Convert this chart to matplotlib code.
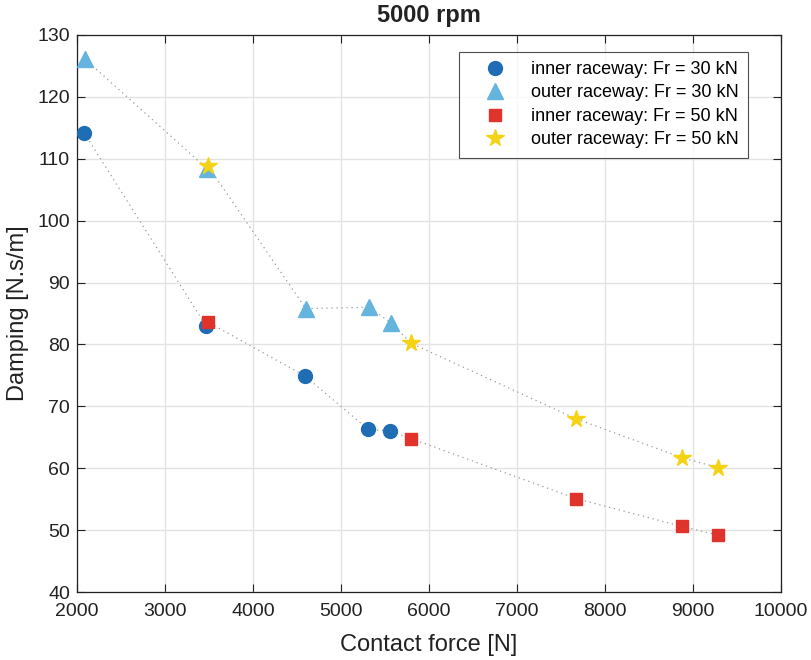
import matplotlib.pyplot as plt
import numpy as np

plt.rcParams.update({
  "font.family": ["Liberation Sans", "DejaVu Sans"],
  "xtick.direction": "in",
  "ytick.direction": "in",
})

# contact force [N] and damping [N.s/m]
inner30_force = [2080, 3466, 4591, 5307, 5557]
inner30_damp = [114.2, 83.0, 74.9, 66.3, 66.0]
outer30_force = [2090, 3477, 4600, 5318, 5568]
outer30_damp = [126.1, 108.4, 85.8, 86.0, 83.5]
inner50_force = [3489, 5795, 7670, 8875, 9284]
inner50_damp = [83.6, 64.8, 55.1, 50.6, 49.2]
outer50_force = [3489, 5795, 7670, 8875, 9284]
outer50_damp = [108.8, 80.2, 68.0, 61.7, 60.1]

x_ticks = [2000, 3000, 4000, 5000, 6000, 7000, 8000, 9000, 10000]
y_ticks = [40, 50, 60, 70, 80, 90, 100, 110, 120, 130]

fig = plt.figure(figsize=(8.11, 6.6), dpi=100)
fig.patch.set_facecolor("white")
ax = fig.add_axes([0.095, 0.103, 0.868, 0.844])

# dotted guide through each raceway's points
for fx, fy in [(inner30_force + inner50_force, inner30_damp + inner50_damp),
               (outer30_force + outer50_force, outer30_damp + outer50_damp)]:
  order = np.argsort(fx, kind="stable")
  ax.plot(np.array(fx)[order], np.array(fy)[order], linestyle=(0, (1, 3)),
          color="#9a9a9a", linewidth=0.9, zorder=2)

ax.plot(inner30_force, inner30_damp, "o", color="#1f6db4", markersize=10,
        linestyle="none", label="inner raceway: Fr = 30 kN", zorder=3)
ax.plot(outer30_force, outer30_damp, "^", color="#64b4de", markersize=11,
        linestyle="none", label="outer raceway: Fr = 30 kN", zorder=3)
ax.plot(inner50_force, inner50_damp, "s", color="#e0332b", markersize=8,
        linestyle="none", label="inner raceway: Fr = 50 kN", zorder=4)
ax.plot(outer50_force, outer50_damp, "*", color="#f6d214", markersize=13,
        linestyle="none", label="outer raceway: Fr = 50 kN", zorder=4)

ax.set_xlim(2000, 10000)
ax.set_ylim(40, 130)
ax.set_xticks(x_ticks)
ax.set_yticks(y_ticks)
ax.tick_params(which="both", top=True, right=True, length=6, width=0.8,
               labelsize=14, colors="#222222", pad=5)
ax.tick_params(axis="x", pad=8)
ax.grid(True, color="#e3e3e3", linewidth=1.0)
ax.set_axisbelow(True)
for s in ax.spines.values():
  s.set_linewidth(0.9)
  s.set_color("#222222")

ax.set_xlabel("Contact force [N]", fontsize=17, color="#222222", labelpad=10)
ax.set_ylabel("Damping [N.s/m]", fontsize=17, color="#222222", labelpad=6)
ax.set_title("5000 rpm", fontsize=17, fontweight="bold", color="#222222", pad=9)

leg = ax.legend(loc="upper right", bbox_to_anchor=(0.953, 0.9695), fontsize=13,
                frameon=True, fancybox=False, edgecolor="#222222",
                borderaxespad=0, handlelength=3.0, handletextpad=0.5,
                borderpad=0.5, labelspacing=0.36)
leg.get_frame().set_linewidth(0.8)

fig.savefig("out.png", dpi=100, facecolor=fig.get_facecolor())
plt.close()
